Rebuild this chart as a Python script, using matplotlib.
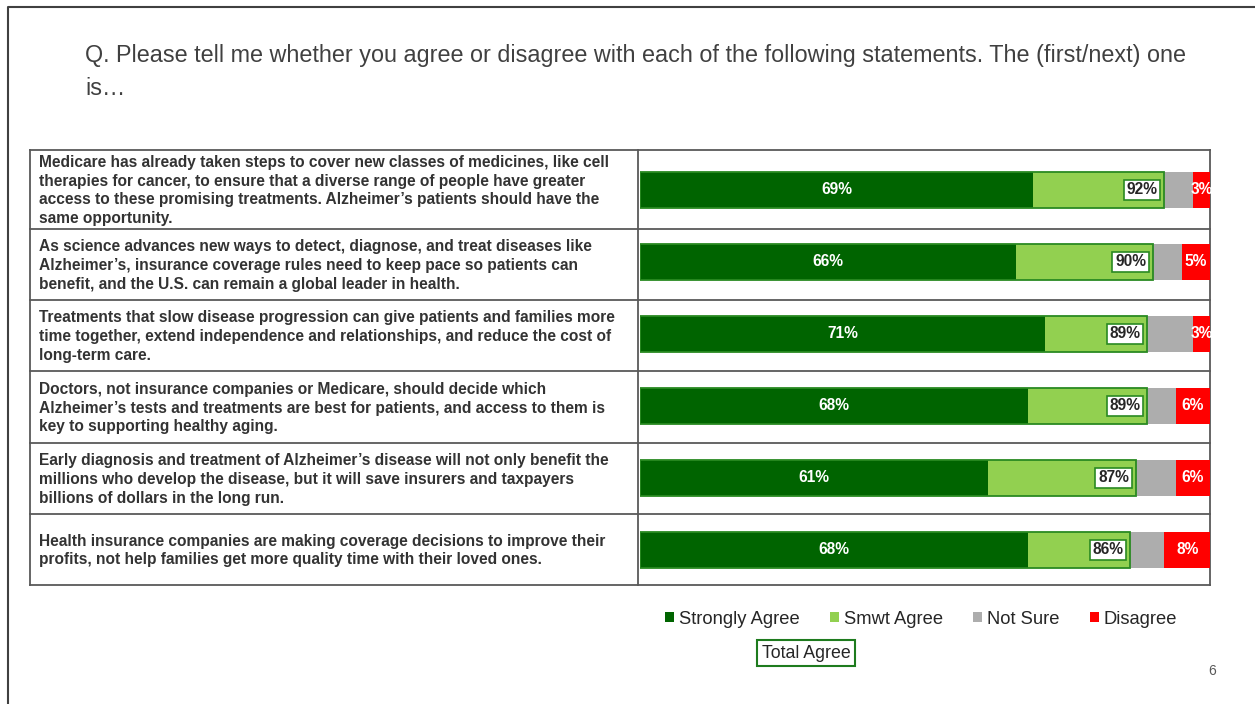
import matplotlib.pyplot as plt
from matplotlib.patches import Patch

# ===============================
# DATA
# ===============================
statements = [
    "Medicare has already taken steps to cover new classes of medicines, like cell\n"
    "therapies for cancer, to ensure that a diverse range of people have greater\n"
    "access to these promising treatments. Alzheimer\u2019s patients should have the\n"
    "same opportunity.",
    "As science advances new ways to detect, diagnose, and treat diseases like\n"
    "Alzheimer\u2019s, insurance coverage rules need to keep pace so patients can\n"
    "benefit, and the U.S. can remain a global leader in health.",
    "Treatments that slow disease progression can give patients and families more\n"
    "time together, extend independence and relationships, and reduce the cost of\n"
    "long-term care.",
    "Doctors, not insurance companies or Medicare, should decide which\n"
    "Alzheimer\u2019s tests and treatments are best for patients, and access to them is\n"
    "key to supporting healthy aging.",
    "Early diagnosis and treatment of Alzheimer\u2019s disease will not only benefit the\n"
    "millions who develop the disease, but it will save insurers and taxpayers\n"
    "billions of dollars in the long run.",
    "Health insurance companies are making coverage decisions to improve their\n"
    "profits, not help families get more quality time with their loved ones.",
]
strongly_agree = [69, 66, 71, 68, 61, 68]
total_agree = [92, 90, 89, 89, 87, 86]
not_sure = [5, 5, 8, 5, 7, 6]
disagree = [3, 5, 3, 6, 6, 8]
smwt_agree = [t - s for t, s in zip(total_agree, strongly_agree)]

legend_labels = ["Strongly Agree", "Smwt Agree", "Not Sure", "Disagree"]
colors = ["#006400", "#92D050", "#ADADAD", "#FF0000"]
GREEN_EDGE = "#2A8A22"

title = ("Q. Please tell me whether you agree or disagree with each of the following "
         "statements. The (first/next) one\nis\u2026")

plt.rcParams['font.family'] = ['Liberation Sans', 'DejaVu Sans']

W, H = 1255, 704
fig = plt.figure(figsize=(W / 100, H / 100), dpi=100)

# ===============================
# OVERLAY (pixel coords): slide frame, table, text
# ===============================
ov = fig.add_axes([0, 0, 1, 1])
ov.set_xlim(0, W)
ov.set_ylim(H, 0)
ov.axis("off")

# slide frame (left + top only)
ov.plot([8, 8, W], [H, 7, 7], color="#404040", lw=1.5)

ov.text(85, 72, title, fontsize=16.8, color="#404040", va="center", ha="left",
        linespacing=1.57)

# table grid
row_edges = [150, 229, 300, 371, 443, 514, 585]
tab_left, tab_mid, tab_right = 30, 638, 1210
for y in row_edges:
    ov.plot([tab_left, tab_right], [y, y], color="#595959", lw=1.3)
for x in [tab_left, tab_mid, tab_right]:
    ov.plot([x, x], [row_edges[0], row_edges[-1]], color="#595959", lw=1.3)

for i, s in enumerate(statements):
    yc = (row_edges[i] + row_edges[i + 1]) / 2 + 1
    ov.text(39, yc, s, fontsize=11.2, fontweight="bold", color="#333333",
            va="center", ha="left", linespacing=1.31)

# ===============================
# BARS
# ===============================
bx = fig.add_axes([640 / W, 1 - 586 / H, 570 / W, 432 / H])
bx.set_xlim(0, 100)
bx.set_ylim(5.5, -0.5)
bx.axis("off")

ypos = range(len(statements))
left = [0] * len(statements)
series = [strongly_agree, smwt_agree, not_sure, disagree]
for vals, c in zip(series, colors):
    bx.barh(ypos, vals, left=left, height=0.5, color=c, edgecolor="none")
    left = [l + v for l, v in zip(left, vals)]

# total agree outline
bx.barh(ypos, total_agree, height=0.5, color="none", edgecolor=GREEN_EDGE, lw=1.3)

for i in ypos:
    bx.text(strongly_agree[i] / 2, i, f"{strongly_agree[i]}%", color="white",
            fontsize=11.2, fontweight="bold", ha="center", va="center")
    bx.text(total_agree[i] - 1.2, i, f"{total_agree[i]}%", color="#262626",
            fontsize=11.2, fontweight="bold", ha="right", va="center",
            bbox=dict(boxstyle="square,pad=0.18", fc="white", ec=GREEN_EDGE, lw=1.2))
    bx.text(100 - disagree[i] / 2, i, f"{disagree[i]}%", color="white",
            fontsize=11.2, fontweight="bold", ha="center", va="center")

# ===============================
# LEGEND
# ===============================
handles = [Patch(facecolor=c, edgecolor="none") for c in colors]
fig.legend(handles, legend_labels, loc="center", bbox_to_anchor=(921 / W, 1 - 619 / H),
           ncol=4, frameon=False, fontsize=13.2, handlelength=0.5, handleheight=0.5,
           handletextpad=0.25, columnspacing=1.65, labelcolor="#262626")

ov.text(806, 653, "Total Agree", fontsize=12.8, color="#262626", ha="center", va="center",
        bbox=dict(boxstyle="square,pad=0.25", fc="white", ec="#1E7B1E", lw=1.5))

ov.text(1212, 671, "6", fontsize=10, color="#595959", ha="center", va="center")

plt.savefig("out.png", dpi=100)
